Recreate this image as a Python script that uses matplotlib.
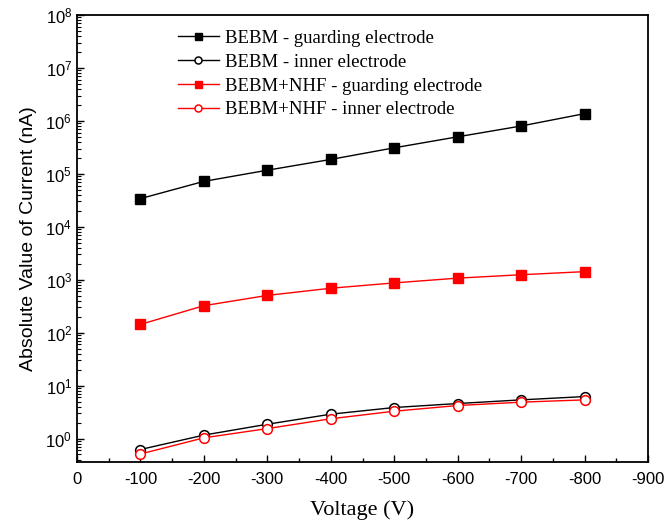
import matplotlib
matplotlib.use("Agg")
import matplotlib.pyplot as plt
from matplotlib.ticker import LogLocator, MultipleLocator, FixedLocator, NullFormatter

voltage = [-100, -200, -300, -400, -500, -600, -700, -800]
bebm_guard = [3.4e4, 7.2e4, 1.17e5, 1.87e5, 3.1e5, 5.0e5, 8.0e5, 1.37e6]
bebm_inner = [0.62, 1.16, 1.86, 2.88, 3.85, 4.58, 5.37, 6.2]
nhf_guard = [143, 323, 505, 690, 870, 1070, 1240, 1420]
nhf_inner = [0.51, 1.03, 1.54, 2.36, 3.28, 4.2, 4.86, 5.37]

labels = ["BEBM - guarding electrode", "BEBM - inner electrode",
          "BEBM+NHF - guarding electrode", "BEBM+NHF - inner electrode"]
xticks = [0, -100, -200, -300, -400, -500, -600, -700, -800, -900]

fig = plt.figure(figsize=(6.64, 5.27), dpi=100)
ax = fig.add_axes([77/664, 1-462/527, 571/664, 447/527])

ms = 7
ax.plot(voltage, bebm_guard, color="black", lw=1, marker="s", ms=ms,
        mfc="black", mec="black", label=labels[0])
ax.plot(voltage, bebm_inner, color="black", lw=1, marker="o", ms=ms,
        mfc="white", mec="black", mew=1.1, label=labels[1])
ax.plot(voltage, nhf_guard, color="red", lw=1, marker="s", ms=ms,
        mfc="red", mec="red", label=labels[2])
ax.plot(voltage, nhf_inner, color="red", lw=1, marker="o", ms=ms,
        mfc="white", mec="red", mew=1.1, label=labels[3])

ax.set_yscale("log")
ax.set_ylim(0.36, 1e8)
ax.set_xlim(0, -900)
ax.xaxis.set_major_locator(FixedLocator(xticks))
ax.xaxis.set_minor_locator(MultipleLocator(50))
ax.xaxis.set_minor_formatter(NullFormatter())
ax.set_xticklabels([str(v) for v in xticks])
ax.yaxis.set_major_locator(LogLocator(base=10, numticks=20))
ax.yaxis.set_minor_locator(LogLocator(base=10, subs=range(2, 10), numticks=20))
ax.yaxis.set_minor_formatter(NullFormatter())

for s in ax.spines.values():
    s.set_linewidth(1.3)
ax.tick_params(axis="both", which="both", direction="in", top=False, right=False)
ax.tick_params(axis="both", which="major", length=5, width=1, labelsize=12)
ax.tick_params(axis="x", which="major", pad=7)
ax.tick_params(axis="y", which="minor", length=3, width=0.8)
ax.tick_params(axis="x", which="minor", length=3, width=1)
for t in ax.get_xticklabels() + ax.get_yticklabels():
    t.set_fontfamily("Liberation Sans")

ax.set_xlabel("Voltage (V)", fontfamily="Liberation Serif", fontsize=16, labelpad=10)
ax.set_ylabel("Absolute Value of Current (nA)", fontfamily="Liberation Sans",
              fontsize=14, labelpad=6)

leg = ax.legend(loc="upper left", bbox_to_anchor=(0.147, 1.005), frameon=False,
                prop={"family": "Liberation Serif", "size": 13.5},
                handlelength=2.2, handletextpad=0.32, labelspacing=0.36,
                markerscale=0.72)

fig.savefig("out.png", dpi=100)
